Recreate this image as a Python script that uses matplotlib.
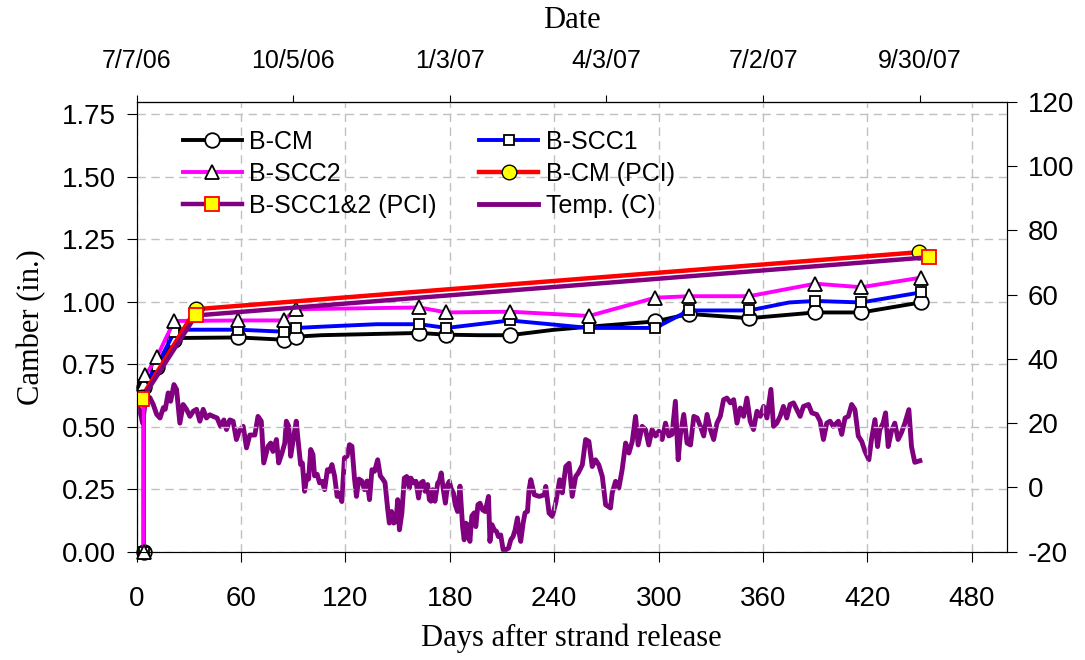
import matplotlib
matplotlib.use("Agg")
import matplotlib.pyplot as plt

plt.rcParams['font.family'] = ['Liberation Sans', 'DejaVu Sans']
plt.rcParams['axes.unicode_minus'] = False

# Camber measurements (days after strand release, camber in inches)
cm_days = [4, 4, 11.5, 21.5, 27, 58.5, 84.5, 91.5, 106, 162.5, 178, 197, 214.5, 239, 260, 298, 317.5, 352, 390, 416.5, 450.5]
cm_camber = [0, 0.66, 0.74, 0.847, 0.855, 0.857, 0.848, 0.86, 0.866, 0.875, 0.868, 0.866, 0.866, 0.887, 0.9, 0.921, 0.951, 0.934, 0.957, 0.957, 0.997]
cm_marks = [0, 1, 2, 3, 5, 6, 7, 9, 10, 12, 15, 16, 17, 18, 19, 20]

scc1_days = [4, 4, 11.5, 21.5, 27, 58.5, 84.5, 91.5, 106, 138, 162.5, 178, 214.5, 260, 298, 317.5, 352, 375, 390, 403, 416.5, 450.5]
scc1_camber = [0, 0.665, 0.742, 0.877, 0.888, 0.888, 0.88, 0.895, 0.9, 0.91, 0.91, 0.895, 0.925, 0.895, 0.895, 0.965, 0.965, 0.997, 1.003, 1.0, 0.997, 1.037]
scc1_marks = [0, 1, 2, 3, 5, 6, 7, 10, 11, 12, 13, 14, 15, 16, 18, 20, 21]

scc2_days = [4, 4, 5, 11.5, 21.5, 58.5, 84.5, 91.5, 162.5, 178, 214.5, 260, 298, 317.5, 352, 390, 416.5, 450.5]
scc2_camber = [0, 0.67, 0.705, 0.777, 0.923, 0.925, 0.925, 0.97, 0.977, 0.957, 0.96, 0.943, 1.016, 1.022, 1.022, 1.072, 1.058, 1.096]

pci_cm_days = [3, 34, 449.5]
pci_cm_camber = [0.62, 0.97, 1.198]
pci_scc_days = [3, 34, 455.5]
pci_scc_camber = [0.61, 0.945, 1.178]

# Temperature (C)
temp_days = [0.3, 1.9, 3.4, 5.3, 7.6, 9.5, 11.5, 13.4, 15.3, 16.4, 18.1, 19.5, 21.4, 22.9, 24.8, 26.7, 28.6, 30.6, 32.5, 34.4,
             36.3, 38.2, 40.1, 42, 43.9, 46.2, 48.2, 50.1, 51.6, 53.5, 55.4, 57.3, 59.3, 61.2, 63.1, 65, 67.9, 69.7, 71.6, 73,
             75.5, 77, 78.3, 80.3, 81.6, 83.5, 85.1, 86, 87.4, 88.5, 89.8, 91.7, 92.7, 94.2, 95.2, 96.5, 97.8, 98.8, 100, 101.3,
             102.2, 103.7, 105.1, 106.5, 108, 109.6, 110.9, 112.2, 113.7, 115.2, 116.5, 117.9, 119.4, 120.9, 122.3, 123.7, 125.2, 126.3, 127.7, 129.4,
             130.9, 132.4, 133.8, 135.2, 136.7, 138.5, 140, 141.4, 142.7, 144.3, 145.2, 146.5, 147.7, 149, 150, 151, 152.4,
             153.8, 155.2, 156.7, 157.6, 159, 160.5, 162, 163.3, 164.6, 165.7, 167.2, 168.2, 169.1, 170.1, 171.4, 173, 173.9, 175, 176.1, 177.4,
             178.7, 179.7, 180.6, 182, 183.1, 184.4, 185.8, 187.3, 188.2, 189.1, 190.1, 191.5, 192.6, 194, 194.9, 196.1, 197.3, 198.8, 200.3, 202.2,
             203, 204.2, 205.5, 206.8, 207.9, 209.2, 210.6, 212.1, 213.7, 215, 216.3, 217.5, 218.8, 219.8, 220.7, 222.1, 223.2, 224.6, 225.5, 226.5,
             228.5, 231.4, 234.3, 235.1, 237, 238.9, 240.8, 243.1, 244.6, 246.6, 248.5, 250.3, 252.3, 253.8, 256.1, 258, 259.9, 261.8, 263.7, 265.6,
             267.6, 269.5, 272.3, 273.3, 275.2, 277.1, 279, 281, 282.9, 284.8, 286.7, 288.2, 290.5, 292.4, 294.3, 296.2, 298.2, 300.1, 302, 303.9,
             305.8, 307.7, 309.6, 311.2, 312.5, 314.4, 316.3, 318.3, 320.2, 322.1, 324, 325.9, 327.8, 329.7, 331.6, 333.5, 335.4, 337.3, 339.2, 341.2,
             343.1, 345, 346.9, 348.8, 350.7, 352.6, 354.5, 356.5, 358.4, 360.3, 362.2, 364.5, 366, 367.9, 369.8, 371.7, 373.6, 375.5, 377.5, 379.4,
             381.3, 383.2, 386.1, 388, 390.8, 392.8, 394.7, 396.6, 398.5, 400.4, 403.3, 405.2, 407.1, 409, 410.9, 412.8, 414.7, 416.7, 418.6, 420.8,
             422.3, 424.3, 425.8, 427.1, 429, 430.4, 431.9, 433.8, 435.7, 437.6, 439.5, 441.5, 443.8, 445.3, 447.2, 450.1]
temp_c = [25.3, 23.7, 20, 28.4, 27.9, 25.8, 22.7, 21.6, 24.8, 24.3, 29.4, 26.8, 32, 30.5, 20, 25.8, 24.3, 22.1, 23.7, 24.3,
          20.6, 24.3, 21.6, 22.6, 22.1, 21.6, 19, 21, 18, 21, 20.6, 14.9, 18, 19, 12.3, 16.3, 16.3, 22.1, 20.6, 7.6,
          12.8, 13.8, 11.2, 14.9, 7.6, 10.7, 13.8, 20.6, 19, 9.7, 14.3, 20.6, 14.9, 7.1, 7.6, -1.2, 3.6, 2.6, 11.8, 10.2,
          3.6, 4.1, 1.4, 1.9, -0.7, 5.5, 5, 7.1, 3.6, -2.8, -1.8, -4.4, 9.2, 9.7, 13.3, 12.8, 2.6, -2.8, 2.6, 2,
          -0.7, 2, -3.8, 5.5, 5, 8.6, 3.6, 2.6, 1.5, -7, -11.1, -7.5, -11.1, -10.6, -3.8, -13.2, -8,
          2.9, 3.4, -0.2, 2.9, 1.4, 1.9, -3.3, 1.4, 1.9, -1.2, 0.9, -3.8, -4.3, -0.7, -4.3, 1.4, 1.9, 4.5, -0.2, -4.9,
          0.9, 1.9, -0.2, -1.7, -5.4, -7.5, 0.4, -12.2, -16.3, -11.1, -11.6, -16.8, -8.9, -7.9, -12.2, -5.4, -4.9, -7, -7.5, -2.8,
          -16.8, -11.6, -13.2, -13.7, -15.3, -14.8, -19.4, -19.4, -18.9, -16.3, -15.3, -13.2, -9.5, -14.2, -16.8, -11.1, -7.9, -7.5, -0.7, 2.4,
          -2.3, -2.8, -2.3, 0.3, -8, -9, -4.9, 2.4, -1.7, 6.5, 7.5, -2.8, 3.4, 4.5, 7, 14.9, 14.3, 6.5, 8.6, 7,
          3.4, -5.4, -6.4, -1.7, 1.9, -0.2, 5.5, 13.8, 10.7, 14.3, 22.1, 13.2, 19, 18, 13.2, 18, 16, 17.5, 14.9, 20,
          16, 16.5, 26.8, 8.6, 16.5, 22.7, 13.8, 13.2, 22.1, 21.6, 19, 16, 22.7, 18, 14.9, 20, 22.1, 27.3, 27.8, 26.3,
          27.3, 20, 24.7, 22.1, 27.8, 20.6, 18, 23.7, 22.1, 25.2, 21.6, 30.5, 19, 20, 22.1, 25.2, 21.6, 25.8, 26.3, 24.2,
          22.1, 25.2, 25.8, 23.2, 22.7, 20.6, 14.9, 20, 20.6, 19, 20.6, 16.5, 21.6, 22.1, 25.8, 24.2, 16, 14.3, 11.2, 8.6,
          14.9, 21.1, 12.7, 18, 20, 23.2, 12.7, 17.5, 20, 14.9, 17, 20, 24.2, 12.7, 7.8, 8.3]

date_days = [0, 90, 180, 270, 360, 450]
date_labels = ['7/7/06', '10/5/06', '1/3/07', '4/3/07', '7/2/07', '9/30/07']

fig = plt.figure(figsize=(10.85, 6.6), dpi=100)
ax = fig.add_axes([0.126, 0.1641, 0.8018, 0.6818])
ax2 = ax.twinx()
ax.set_zorder(ax2.get_zorder() + 1)
ax.patch.set_visible(False)

# temperature on the right axis
l_temp, = ax2.plot(temp_days, temp_c, color='#800080', lw=3.5, label='Temp. (C)')
ax2.set_ylim(-20, 120)
ax2.set_yticks(range(-20, 121, 20))

l_cm, = ax.plot(cm_days, cm_camber, color='black', lw=2.8, marker='o', markevery=cm_marks,
                ms=10.5, mfc='white', mec='black', mew=1.3, label='B-CM', clip_on=False)
l_scc1, = ax.plot(scc1_days, scc1_camber, color='#0000FF', lw=2.8, marker='s', markevery=scc1_marks,
                  ms=7.5, mfc='white', mec='black', mew=1.3, label='B-SCC1', clip_on=False)
l_scc2, = ax.plot(scc2_days, scc2_camber, color='#FF00FF', lw=2.8, marker='^',
                  ms=9.5, mfc='white', mec='black', mew=1.3, label='B-SCC2', clip_on=False)
l_pcm, = ax.plot(pci_cm_days, pci_cm_camber, color='#FF0000', lw=3.2, marker='o',
                 ms=10.5, mfc='#FFFF00', mec='black', mew=1.0, label='B-CM (PCI)')
l_pscc, = ax.plot(pci_scc_days, pci_scc_camber, color='#800080', lw=3.2, marker='s',
                  ms=10, mfc='#FFFF00', mec='#FF0000', mew=1.3, label='B-SCC1&2 (PCI)')

ax.set_xlim(0, 500)
ax.set_ylim(0, 1.8)
ax.set_xticks(range(0, 481, 60))
ax.set_yticks([0, 0.25, 0.5, 0.75, 1.0, 1.25, 1.5, 1.75])
ax.yaxis.set_major_formatter(matplotlib.ticker.FormatStrFormatter('%.2f'))
ax.grid(True, color='#C0C0C0', ls=(0, (6, 4)), lw=1)

ax.tick_params(axis='x', direction='out', length=7, labelsize=20, pad=18)
ax.tick_params(axis='y', direction='out', length=7, labelsize=20, pad=8)
ax2.tick_params(axis='y', direction='out', length=7, labelsize=20, pad=8)

top = ax.secondary_xaxis('top')
top.set_xticks(date_days, labels=date_labels)
top.tick_params(direction='out', length=5, labelsize=18, pad=16)
top.set_xlabel('Date', family='Liberation Serif', fontsize=22, labelpad=15)

ax.set_xlabel('Days after strand release', family='Liberation Serif', fontsize=22, labelpad=8)
ax.set_ylabel('Camber (in.)', family='Liberation Serif', fontsize=22, labelpad=11)

handles = [l_cm, l_scc2, l_pscc, l_scc1, l_pcm, l_temp]
ax.legend(handles=handles, labels=[h.get_label() for h in handles], ncol=2, frameon=False,
          loc='upper left', bbox_to_anchor=(0.1687, 0.803), bbox_transform=fig.transFigure,
          borderpad=0, borderaxespad=0, fontsize=18, handlelength=2.35, handletextpad=0.3,
          columnspacing=1.7, labelspacing=0.32)

plt.savefig('out.png', dpi=100)
